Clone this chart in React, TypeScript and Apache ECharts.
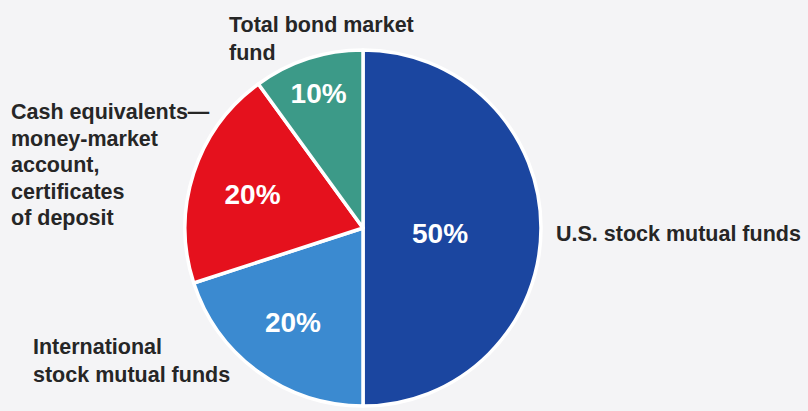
import React, { useEffect, useRef } from "react";
import * as echarts from "echarts";

const categories = [
  "U.S. stock mutual funds",
  "International\nstock mutual funds",
  "Cash equivalents—\nmoney-market\naccount,\ncertificates\nof deposit",
  "Total bond market\nfund",
];
const shares = [50, 20, 20, 10];
const sliceColors = ["#1b46a0", "#3b8ad0", "#e5111d", "#3c9a88"];
const pctOffsets = [
  [-15, 5],
  [-16, 20],
  [-23, -5],
  [-16, -47],
];

export default function App() {
  const ref = useRef<HTMLDivElement>(null);
  useEffect(() => {
    document.body.style.margin = "0";
    const chart = echarts.init(ref.current!, null, { renderer: "svg" });
    const font = "'Liberation Sans', Arial, sans-serif";
    const textColor = "#262626";
    const outer = [
      { x: 556, y: 234, lh: 26, valign: "middle" },
      { x: 33, y: 333, lh: 28, valign: "top" },
      { x: 11, y: 99, lh: 26.5, valign: "top" },
      { x: 229, y: 11, lh: 28, valign: "top" },
    ];
    chart.setOption({
      animation: false,
      backgroundColor: "#f4f4f6",
      series: [
        {
          type: "pie",
          center: [363, 228],
          radius: 178,
          startAngle: 90,
          clockwise: true,
          silent: true,
          itemStyle: { borderColor: "#ffffff", borderWidth: 3.5 },
          label: {
            show: true,
            position: "inside",
            formatter: "{c}%",
            color: "#ffffff",
            fontFamily: font,
            fontWeight: "bold",
            fontSize: 28,
          },
          labelLine: { show: false },
          data: categories.map((name, i) => ({
            name,
            value: shares[i],
            itemStyle: { color: sliceColors[i] },
            label: { offset: pctOffsets[i] },
          })),
        },
      ],
      graphic: categories.map((name, i) => ({
        type: "text",
        x: outer[i].x,
        y: outer[i].y,
        style: {
          text: name,
          fill: textColor,
          font: `bold 21.5px ${font}`,
          lineHeight: outer[i].lh,
          verticalAlign: outer[i].valign,
          align: "left",
        },
      })),
    });
    return () => chart.dispose();
  }, []);
  return <div ref={ref} style={{ width: 808, height: 411 }} />;
}
